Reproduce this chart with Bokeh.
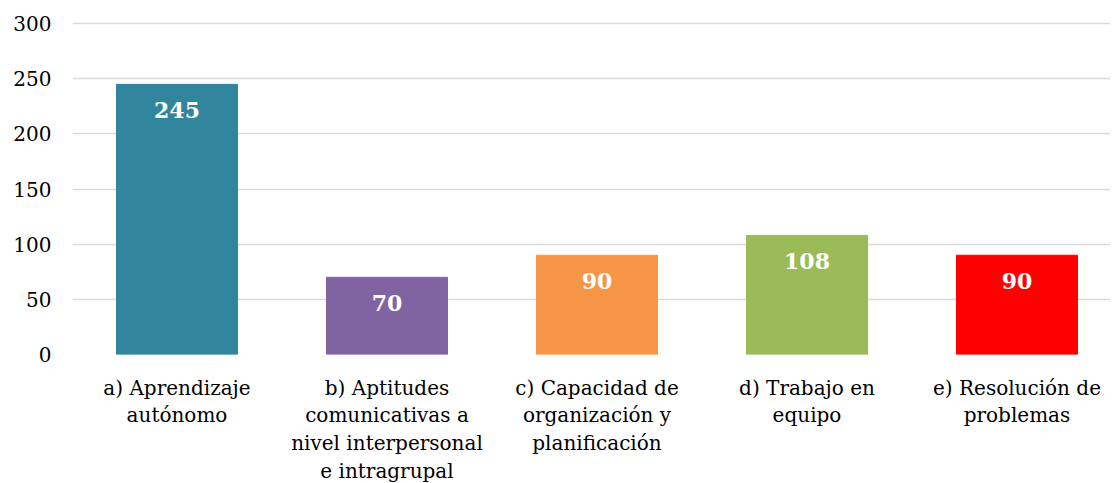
from bokeh.plotting import figure
from bokeh.models import ColumnDataSource, FixedTicker, Range1d
from bokeh.core.properties import value
from bokeh.embed import file_html
from bokeh.resources import INLINE

categories = [
    "a) Aprendizaje\nautónomo",
    "b) Aptitudes\ncomunicativas a\nnivel interpersonal\ne intragrupal",
    "c) Capacidad de\norganización y\nplanificación",
    "d) Trabajo en\nequipo",
    "e) Resolución de\nproblemas",
]
values = [245, 70, 90, 108, 90]
colors = ["#31859C", "#8064A2", "#F79646", "#9BBB59", "#FF0000"]
y_ticks = [0, 50, 100, 150, 200, 250, 300]

xs = list(range(len(categories)))
src = ColumnDataSource(dict(x=xs, top=values, color=colors,
                            label=[str(v) for v in values]))

FONT = "DejaVu Serif"

p = figure(frame_width=1038, frame_height=333, output_backend="svg",
           toolbar_location=None,
           x_range=Range1d(-0.4976, 4.4452), y_range=Range1d(0, 302),
           min_border_left=72, min_border_right=0, min_border_top=21,
           min_border_bottom=10)
p.outline_line_color = None
p.background_fill_color = "white"

p.vbar(x="x", top="top", width=0.576, bottom=0, color="color", source=src)
p.text(x="x", y="top", text="label", source=src, text_color="white",
       text_font=value(FONT), text_font_style="bold", text_font_size="22px",
       text_align="center", text_baseline="top", y_offset=18)

p.xgrid.visible = False
p.ygrid.grid_line_color = "#d9d9d9"
p.ygrid.grid_line_width = 1.5
p.ygrid.ticker = FixedTicker(ticks=y_ticks)

p.yaxis.ticker = FixedTicker(ticks=y_ticks)
p.yaxis.axis_line_color = None
p.yaxis.major_tick_line_color = None
p.yaxis.minor_tick_line_color = None
p.yaxis.major_label_text_font = FONT
p.yaxis.major_label_text_font_size = "20px"
p.yaxis.major_label_text_color = "black"
p.yaxis.major_label_standoff = 15

p.xaxis.ticker = FixedTicker(ticks=xs)
p.xaxis.major_label_overrides = {i: c for i, c in enumerate(categories)}
p.xaxis.axis_line_color = None
p.xaxis.major_tick_line_color = None
p.xaxis.minor_tick_line_color = None
p.xaxis.major_label_text_font = FONT
p.xaxis.major_label_text_font_size = "20px"
p.xaxis.major_label_text_color = "black"
p.xaxis.major_label_text_line_height = 1.16
p.xaxis.major_label_standoff = 15

open("out.html", "w").write(file_html(p, INLINE))
